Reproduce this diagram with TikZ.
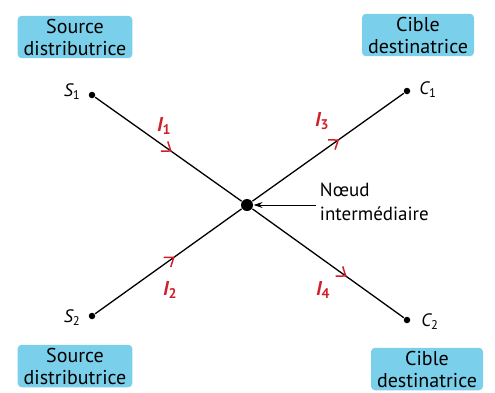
\documentclass[tikz,border=0pt]{standalone}
\usepackage{fontspec}
\setmainfont{PT Sans}
\usetikzlibrary{arrows.meta,decorations.markings}
\definecolor{boxblue}{RGB}{122,208,234}
\definecolor{ired}{RGB}{208,32,42}

\tikzset{
  label box/.style = {fill = boxblue, rounded corners = 4pt, align = center,
    inner xsep = 6pt, inner ysep = 3pt, font = \fontsize{20}{22}\selectfont},
  dot/.style = {circle, fill, inner sep = 0pt, minimum size = 6.5pt},
  flow/.style = {postaction = {decorate, decoration = {markings,
    mark = at position #1 with {\draw[ired, line width = 1.5pt, -] (-5pt,-6pt) -- (3pt,0pt) -- (-5pt,6pt);}}}},
  cur/.style = {ired, font = \fontsize{20}{22}\selectfont\bfseries\itshape},
  pt/.style = {font = \fontsize{18}{20}\selectfont\itshape}
}

\begin{document}
\begin{tikzpicture}[x = 1pt, y = -1pt, line width = 1.3pt]
\useasboundingbox (0,0) rectangle (495,392);
\draw (92,95) node[dot](s1){}
    (407,91) node[dot](c1){}
    (92,316) node[dot](s2){}
    (407,320) node[dot](c2){}
    (247,205) node[dot, minimum size = 12pt](n){};
    % names of the points
    \node[pt] at (72,92) {S\textsubscript{\upshape 1}};
    \node[pt] at (428,90) {C\textsubscript{\upshape 1}};
    \node[pt] at (72,318) {S\textsubscript{\upshape 2}};
    \node[pt] at (430,322) {C\textsubscript{\upshape 2}};
    % branches
    \draw [flow = 0.5] (s1) -- (n);
    \draw [flow = 0.52] (s2) -- (n);
    \draw [flow = 0.55] (n) -- (c1);
    \draw [flow = 0.6] (n) -- (c2);
    \node[cur] at (164,126) {I\textsubscript{\upshape 1}};
    \node[cur] at (322,121) {I\textsubscript{\upshape 3}};
    \node[cur] at (170,290) {I\textsubscript{\upshape 2}};
    \node[cur] at (323,290) {I\textsubscript{\upshape 4}};
    % the node
    \node[align = left, anchor = west, font = \fontsize{19}{24}\selectfont] (txt) at (316,202) {Nœud\\intermédiaire};
    \draw [-{Stealth[length = 9pt, width = 6pt]}, line width = 0.9pt] (txt.west |- n) -- (n);
    % boxes
    \node[label box] (b1) at (75,37) {Source\\distributrice};
    \node[label box] (b2) at (418,35) {Cible\\destinatrice};
    \node[label box] (b3) at (75,366) {Source\\distributrice};
    \node[label box] (b4) at (427,369) {Cible\\destinatrice};
\end{tikzpicture}
\end{document}
